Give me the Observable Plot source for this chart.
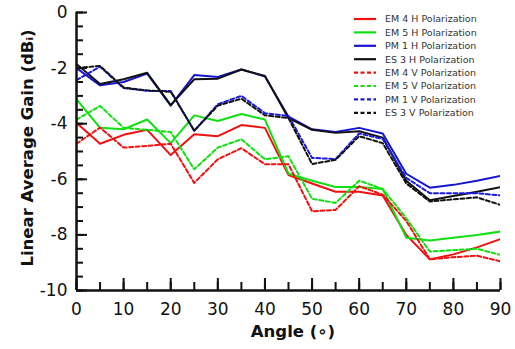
<!DOCTYPE html>
<html>
<head>
<meta charset="utf-8">
<script src="https://cdn.jsdelivr.net/npm/d3@7"></script>
<script src="https://cdn.jsdelivr.net/npm/@observablehq/plot@0.6"></script>
<style>
  html, body { margin: 0; padding: 0; background: #fff; }
  svg { display: block; }
</style>
</head>
<body>
<div id="chart"></div>
<script>
const angles = [0, 5, 10, 15, 20, 25, 30, 35, 40, 45, 50, 55, 60, 65, 70, 75, 80, 85, 90];

const em4H = [-3.97, -4.72, -4.4, -4.22, -5.13, -4.38, -4.45, -4.05, -4.15, -5.85, -6.15, -6.45, -6.45, -6.58, -8.0, -8.88, -8.7, -8.45, -8.15];
const em5H = [-3.12, -4.15, -4.2, -3.85, -4.7, -3.7, -3.9, -3.65, -3.85, -5.8, -6.05, -6.28, -6.28, -6.35, -8.1, -8.2, -8.1, -8.0, -7.88];
const pm1H = [-2.0, -2.62, -2.5, -2.2, -3.35, -2.25, -2.32, -2.05, -2.3, -3.75, -4.2, -4.3, -4.15, -4.35, -5.8, -6.3, -6.2, -6.05, -5.88];
const es3H = [-1.85, -2.57, -2.4, -2.17, -3.33, -2.4, -2.38, -2.05, -2.28, -3.8, -4.22, -4.33, -4.27, -4.5, -6.05, -6.75, -6.6, -6.45, -6.28];
const em4V = [-4.72, -4.14, -4.86, -4.8, -4.72, -6.13, -5.28, -4.88, -5.46, -5.46, -7.15, -7.1, -6.25, -6.55, -7.5, -8.88, -8.8, -8.75, -8.95];
const em5V = [-3.85, -3.36, -4.15, -4.22, -4.3, -5.64, -4.86, -4.56, -5.28, -5.17, -6.7, -6.85, -6.05, -6.35, -7.4, -8.6, -8.55, -8.5, -8.72];
const pm1V = [-2.43, -1.95, -2.72, -2.82, -2.82, -4.26, -3.3, -3.0, -3.62, -3.72, -5.23, -5.27, -4.35, -4.55, -5.95, -6.5, -6.5, -6.5, -6.58];
const es3V = [-2.0, -1.92, -2.7, -2.8, -2.85, -4.25, -3.35, -3.1, -3.7, -3.8, -5.45, -5.3, -4.45, -4.7, -6.15, -6.8, -6.72, -6.65, -6.92];

const seriesNames = ["EM 4 H Polarization", "EM 5 H Polarization", "PM 1 H Polarization", "ES 3 H Polarization",
                     "EM 4 V Polarization", "EM 5 V Polarization", "PM 1 V Polarization", "ES 3 V Polarization"];
const seriesValues = [em4H, em5H, pm1H, es3H, em4V, em5V, pm1V, es3V];
const seriesColors = ["#f01010", "#10e010", "#1515d0", "#111111", "#f01010", "#10e010", "#1a1ae0", "#111111"];
const seriesDashed = [false, false, false, false, true, true, true, true];

const yMajor = [-10, -8, -6, -4, -2, 0];
const yMinor = d3.range(-10, 0.01, 0.5);
const xMajor = [0, 10, 20, 30, 40, 50, 60, 70, 80, 90];
const xMinor = d3.range(0, 90.1, 5);

const xTitle = "Angle (\u2218)";
const yTitle = "Linear Average Gain (dB\u1D62)";

const rows = [];
seriesNames.forEach((name, i) => {
  angles.forEach((a, j) => rows.push({series: name, angle: a, gain: seriesValues[i][j], dashed: seriesDashed[i]}));
});

const W = 515, H = 349, mL = 76, mR = 15, mT = 12, mB = 59;
const plotW = W - mL - mR, plotH = H - mT - mB;

const chart = Plot.plot({
  width: W, height: H,
  marginLeft: mL, marginRight: mR, marginTop: mT, marginBottom: mB,
  style: {fontFamily: "DejaVu Sans", background: "#fff", color: "#111"},
  x: {domain: [0, 90]},
  y: {domain: [-10, 0]},
  color: {domain: seriesNames, range: seriesColors},
  marks: [
    Plot.line(rows.filter(d => !d.dashed), {x: "angle", y: "gain", z: "series", stroke: "series", strokeWidth: 2, clip: true}),
    Plot.line(rows.filter(d => d.dashed), {x: "angle", y: "gain", z: "series", stroke: "series", strokeWidth: 2, strokeDasharray: "4,2.5", clip: true}),
    Plot.tickY(yMinor, {y: d => d, insetRight: plotW - 7, stroke: "#111", strokeWidth: 2}),
    Plot.tickY(yMajor, {y: d => d, insetRight: plotW - 11, stroke: "#111", strokeWidth: 2}),
    Plot.tickX(xMinor, {x: d => d, insetTop: plotH - 8, stroke: "#111", strokeWidth: 2}),
    Plot.tickX(xMajor, {x: d => d, insetTop: plotH - 12, stroke: "#111", strokeWidth: 2}),
    Plot.ruleX([0], {stroke: "#111", strokeWidth: 2.5}),
    Plot.ruleY([-10], {stroke: "#111", strokeWidth: 2.5}),
    Plot.axisY({ticks: yMajor, tickSize: 0, tickPadding: 9, tickFormat: d => String(d), fontSize: 17, label: null}),
    Plot.axisX({ticks: xMajor, tickSize: 0, tickPadding: 12, tickFormat: d => String(d), fontSize: 17, label: null})
  ]
});

const svg = d3.select(chart);

// Axis titles
svg.append("text")
  .attr("x", mL + plotW / 2 + 5).attr("y", 331)
  .attr("text-anchor", "middle").attr("dominant-baseline", "central")
  .attr("font-family", "DejaVu Sans").attr("font-weight", "bold").attr("font-size", 16.5).attr("fill", "#111")
  .text(xTitle);
svg.append("text")
  .attr("transform", `translate(27,${mT + plotH / 2 - 3}) rotate(-90)`)
  .attr("text-anchor", "middle").attr("dominant-baseline", "central")
  .attr("font-family", "DejaVu Sans").attr("font-weight", "bold").attr("font-size", 16.5).attr("fill", "#111")
  .text(yTitle);

// Legend drawn inside the SVG
const lg = svg.append("g").attr("transform", "translate(354,19)");
seriesNames.forEach((name, i) => {
  const g = lg.append("g").attr("transform", `translate(0,${i * 13.4})`);
  g.append("line").attr("x1", 0).attr("x2", 22).attr("y1", 0).attr("y2", 0)
    .attr("stroke", seriesColors[i]).attr("stroke-width", 2.2)
    .attr("stroke-dasharray", seriesDashed[i] ? "4,2.5" : null);
  g.append("text").attr("x", 31).attr("y", 0).attr("dy", "0.35em")
    .attr("text-anchor", "start")
    .attr("font-family", "DejaVu Sans").attr("font-size", 9.5).attr("fill", "#333")
    .text(name);
});

document.getElementById("chart").appendChild(chart);
</script>
</body>
</html>
